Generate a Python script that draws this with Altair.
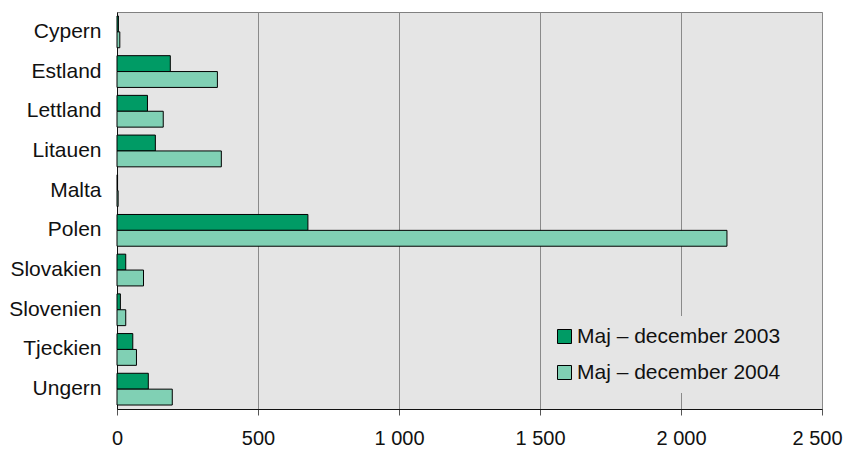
import altair as alt
import pandas as pd

countries = ["Cypern", "Estland", "Lettland", "Litauen", "Malta", "Polen",
             "Slovakien", "Slovenien", "Tjeckien", "Ungern"]
series = ["Maj – december 2003", "Maj – december 2004"]
v2003 = [5, 189, 108, 136, 2, 677, 31, 12, 56, 111]
v2004 = [10, 356, 164, 370, 4, 2163, 94, 31, 69, 196]
colors = ["#009B65", "#80D0B4"]
x_ticks = [0, 500, 1000, 1500, 2000, 2500]

rows = []
for i, c in enumerate(countries):
    rows.append({"land": c, "period": series[0], "antal": v2003[i]})
    rows.append({"land": c, "period": series[1], "antal": v2004[i]})
df = pd.DataFrame(rows)

FONT = "Liberation Sans"

chart = alt.Chart(df).mark_bar(stroke="black", strokeWidth=1, opacity=1).encode(
    x=alt.X("antal:Q",
            scale=alt.Scale(domain=[0, 2500], nice=False),
            axis=alt.Axis(values=x_ticks, title=None, labelFlush=False,
                          labelExpr="replace(format(datum.value, ','), ',', ' ')",
                          labelOffset={"condition": {"test": "datum.value == 2500", "value": -5}, "value": 0},
                          labelFontSize=20, labelColor="#111", labelPadding=13,
                          tickSize=6, tickColor="#555", domainColor="#111",
                          grid=True, gridColor="#8a8a8a", gridWidth=1)),
    y=alt.Y("land:N", sort=countries,
            scale=alt.Scale(paddingInner=0.2, paddingOuter=0.1),
            axis=alt.Axis(title=None, ticks=False, labelPadding=16,
                          labelFontSize=21, labelColor="#111",
                          domainColor="#111", grid=False)),
    yOffset=alt.YOffset("period:N", sort=series,
                        scale=alt.Scale(paddingInner=0, paddingOuter=0)),
    color=alt.Color("period:N", sort=series,
                    scale=alt.Scale(domain=series, range=colors),
                    legend=alt.Legend(title=None, orient="none",
                                      legendX=427, legendY=304,
                                      fillColor="#e5e5e5", padding=10,
                                      symbolType="square", symbolSize=196,
                                      symbolStrokeColor="black", symbolStrokeWidth=1,
                                      symbolOpacity=1,
                                      labelFontSize=21, labelColor="#111",
                                      labelOffset=2, rowPadding=14,
                                      labelLimit=400)),
).properties(
    width=705, height=397,
    autosize=alt.AutoSizeParams(type="none"),
    padding={"left": 109, "top": 4, "right": 21, "bottom": 42},
    background="white",
).configure(font=FONT).configure_view(fill="#e5e5e5", stroke="#808080")

chart.save("out.html", embed_options={"renderer": "svg", "actions": False})
